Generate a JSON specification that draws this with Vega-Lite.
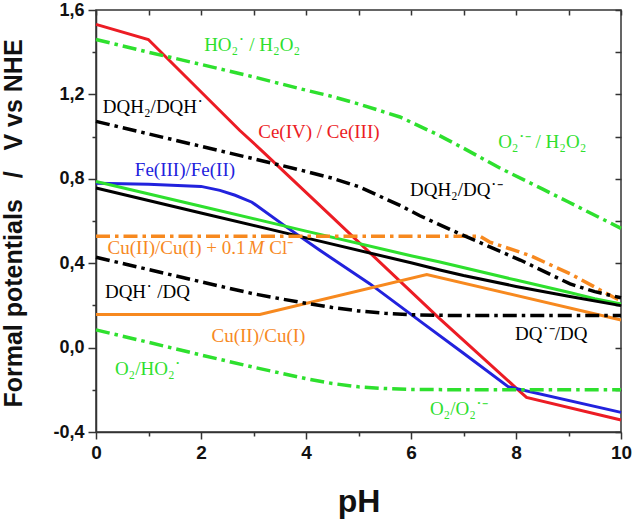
{
  "$schema": "https://vega.github.io/schema/vega-lite/v6.json",
  "width": 525,
  "height": 422,
  "autosize": {"type": "none"},
  "padding": {"left": 96, "top": 10, "right": 12, "bottom": 88},
  "background": "white",
  "config": {
    "view": {"stroke": "#333333", "strokeWidth": 1.5},
    "axis": {"grid": false, "domainColor": "#333333", "domainWidth": 1.5, "tickColor": "#333333", "tickWidth": 1.5}
  },
  "datasets": {
    "lines": [
      {"s": "Ce(IV)/Ce(III)", "x": 0, "y": 1.532},
      {"s": "Ce(IV)/Ce(III)", "x": 0.997, "y": 1.46},
      {"s": "Ce(IV)/Ce(III)", "x": 2.74, "y": 1.029},
      {"s": "Ce(IV)/Ce(III)", "x": 3.156, "y": 0.934},
      {"s": "Ce(IV)/Ce(III)", "x": 4.5, "y": 0.618},
      {"s": "Ce(IV)/Ce(III)", "x": 6.55, "y": 0.136},
      {"s": "Ce(IV)/Ce(III)", "x": 8.04, "y": -0.2},
      {"s": "Ce(IV)/Ce(III)", "x": 8.2, "y": -0.236},
      {"s": "Ce(IV)/Ce(III)", "x": 10, "y": -0.343},

      {"s": "Fe(III)/Fe(II)", "x": 0, "y": 0.779},
      {"s": "Fe(III)/Fe(II)", "x": 1, "y": 0.774},
      {"s": "Fe(III)/Fe(II)", "x": 2, "y": 0.764},
      {"s": "Fe(III)/Fe(II)", "x": 2.36, "y": 0.745},
      {"s": "Fe(III)/Fe(II)", "x": 2.65, "y": 0.722},
      {"s": "Fe(III)/Fe(II)", "x": 2.97, "y": 0.689},
      {"s": "Fe(III)/Fe(II)", "x": 3.63, "y": 0.571},
      {"s": "Fe(III)/Fe(II)", "x": 4.27, "y": 0.46},
      {"s": "Fe(III)/Fe(II)", "x": 5.22, "y": 0.302},
      {"s": "Fe(III)/Fe(II)", "x": 6.23, "y": 0.115},
      {"s": "Fe(III)/Fe(II)", "x": 7.0, "y": -0.027},
      {"s": "Fe(III)/Fe(II)", "x": 7.85, "y": -0.185},
      {"s": "Fe(III)/Fe(II)", "x": 10, "y": -0.307},

      {"s": "O2/H2O2", "x": 0, "y": 0.787},
      {"s": "O2/H2O2", "x": 2, "y": 0.67},
      {"s": "O2/H2O2", "x": 4, "y": 0.552},
      {"s": "O2/H2O2", "x": 6, "y": 0.435},
      {"s": "O2/H2O2", "x": 6.55, "y": 0.406},
      {"s": "O2/H2O2", "x": 8, "y": 0.32},
      {"s": "O2/H2O2", "x": 9, "y": 0.262},
      {"s": "O2/H2O2", "x": 9.5, "y": 0.232},
      {"s": "O2/H2O2", "x": 10, "y": 0.207},

      {"s": "DQ/DQH2", "x": 0, "y": 0.756},
      {"s": "DQ/DQH2", "x": 2, "y": 0.638},
      {"s": "DQ/DQH2", "x": 4, "y": 0.52},
      {"s": "DQ/DQH2", "x": 6, "y": 0.402},
      {"s": "DQ/DQH2", "x": 6.55, "y": 0.368},
      {"s": "DQ/DQH2", "x": 7, "y": 0.342},
      {"s": "DQ/DQH2", "x": 8, "y": 0.29},
      {"s": "DQ/DQH2", "x": 9, "y": 0.243},
      {"s": "DQ/DQH2", "x": 10, "y": 0.199},

      {"s": "Cu(II)/Cu(I)", "x": 0, "y": 0.157},
      {"s": "Cu(II)/Cu(I)", "x": 3.12, "y": 0.157},
      {"s": "Cu(II)/Cu(I)", "x": 6.3, "y": 0.346},
      {"s": "Cu(II)/Cu(I)", "x": 10, "y": 0.131},

      {"s": "Cu(II)/Cu(I) + 0.1 M Cl-", "x": 0, "y": 0.528},
      {"s": "Cu(II)/Cu(I) + 0.1 M Cl-", "x": 7.31, "y": 0.528},
      {"s": "Cu(II)/Cu(I) + 0.1 M Cl-", "x": 7.5, "y": 0.5},
      {"s": "Cu(II)/Cu(I) + 0.1 M Cl-", "x": 8.27, "y": 0.436},
      {"s": "Cu(II)/Cu(I) + 0.1 M Cl-", "x": 9.03, "y": 0.35},
      {"s": "Cu(II)/Cu(I) + 0.1 M Cl-", "x": 9.85, "y": 0.24},
      {"s": "Cu(II)/Cu(I) + 0.1 M Cl-", "x": 10, "y": 0.222},

      {"s": "DQH2/DQH", "x": 0, "y": 1.072},
      {"s": "DQH2/DQH", "x": 1, "y": 1.013},
      {"s": "DQH2/DQH", "x": 2, "y": 0.954},
      {"s": "DQH2/DQH", "x": 3, "y": 0.895},
      {"s": "DQH2/DQH", "x": 3.886, "y": 0.842},
      {"s": "DQH2/DQH", "x": 4.5, "y": 0.803},
      {"s": "DQH2/DQH", "x": 5, "y": 0.763},
      {"s": "DQH2/DQH", "x": 5.79, "y": 0.674},
      {"s": "DQH2/DQH", "x": 6.17, "y": 0.625},
      {"s": "DQH2/DQH", "x": 6.93, "y": 0.539},
      {"s": "DQH2/DQH", "x": 8.08, "y": 0.415},
      {"s": "DQH2/DQH", "x": 9.03, "y": 0.302},
      {"s": "DQH2/DQH", "x": 9.5, "y": 0.265},
      {"s": "DQH2/DQH", "x": 10, "y": 0.236},

      {"s": "DQH/DQ", "x": 0, "y": 0.428},
      {"s": "DQH/DQ", "x": 1, "y": 0.37},
      {"s": "DQH/DQ", "x": 2, "y": 0.312},
      {"s": "DQH/DQ", "x": 2.5, "y": 0.283},
      {"s": "DQH/DQ", "x": 3, "y": 0.255},
      {"s": "DQH/DQ", "x": 3.5, "y": 0.232},
      {"s": "DQH/DQ", "x": 4, "y": 0.21},
      {"s": "DQH/DQ", "x": 4.5, "y": 0.19},
      {"s": "DQH/DQ", "x": 5, "y": 0.174},
      {"s": "DQH/DQ", "x": 5.5, "y": 0.163},
      {"s": "DQH/DQ", "x": 6, "y": 0.156},
      {"s": "DQH/DQ", "x": 6.5, "y": 0.153},
      {"s": "DQH/DQ", "x": 7, "y": 0.152},
      {"s": "DQH/DQ", "x": 10, "y": 0.152},

      {"s": "HO2/H2O2", "x": 0, "y": 1.46},
      {"s": "HO2/H2O2", "x": 1, "y": 1.4},
      {"s": "HO2/H2O2", "x": 2, "y": 1.342},
      {"s": "HO2/H2O2", "x": 3, "y": 1.283},
      {"s": "HO2/H2O2", "x": 3.886, "y": 1.227},
      {"s": "HO2/H2O2", "x": 4.5, "y": 1.19},
      {"s": "HO2/H2O2", "x": 5, "y": 1.155},
      {"s": "HO2/H2O2", "x": 5.79, "y": 1.093},
      {"s": "HO2/H2O2", "x": 6.5, "y": 1.01},
      {"s": "HO2/H2O2", "x": 7, "y": 0.945},
      {"s": "HO2/H2O2", "x": 7.7, "y": 0.85},
      {"s": "HO2/H2O2", "x": 8.5, "y": 0.752},
      {"s": "HO2/H2O2", "x": 9, "y": 0.69},
      {"s": "HO2/H2O2", "x": 10, "y": 0.565},

      {"s": "O2/HO2", "x": 0, "y": 0.084},
      {"s": "O2/HO2", "x": 1, "y": 0.025},
      {"s": "O2/HO2", "x": 2, "y": -0.035},
      {"s": "O2/HO2", "x": 3, "y": -0.093},
      {"s": "O2/HO2", "x": 3.5, "y": -0.12},
      {"s": "O2/HO2", "x": 4, "y": -0.147},
      {"s": "O2/HO2", "x": 4.5, "y": -0.17},
      {"s": "O2/HO2", "x": 5, "y": -0.186},
      {"s": "O2/HO2", "x": 5.5, "y": -0.194},
      {"s": "O2/HO2", "x": 6, "y": -0.198},
      {"s": "O2/HO2", "x": 7, "y": -0.2},
      {"s": "O2/HO2", "x": 10, "y": -0.2}
    ],
    "labels": [
      {"s": "HO2/H2O2", "x": 2.06, "y": 1.433, "t": "HO₂˙ / H₂O₂"},
      {"s": "DQH2/DQH", "x": 0.13, "y": 1.14, "t": "DQH₂/DQH˙"},
      {"s": "Ce(IV)/Ce(III)", "x": 3.09, "y": 1.02, "t": "Ce(IV) / Ce(III)"},
      {"s": "Fe(III)/Fe(II)", "x": 0.74, "y": 0.84, "t": "Fe(III)/Fe(II)"},
      {"s": "HO2/H2O2", "x": 7.66, "y": 0.974, "t": "O₂˙⁻ / H₂O₂"},
      {"s": "DQH2/DQH", "x": 5.98, "y": 0.745, "t": "DQH₂/DQ˙⁻"},
      {"s": "Cu(II)/Cu(I) + 0.1 M Cl-", "x": 0.22, "y": 0.472, "t": "Cu(II)/Cu(I) + 0.1"},
      {"s": "Cu(II)/Cu(I) + 0.1 M Cl-", "x": 3.3, "y": 0.472, "t": "Cl⁻"},
      {"s": "DQH/DQ", "x": 0.17, "y": 0.262, "t": "DQH˙ /DQ"},
      {"s": "Cu(II)/Cu(I)", "x": 2.2, "y": 0.057, "t": "Cu(II)/Cu(I)"},
      {"s": "O2/HO2", "x": 0.36, "y": -0.101, "t": "O₂/HO₂˙"},
      {"s": "DQH/DQ", "x": 7.98, "y": 0.065, "t": "DQ˙⁻/DQ"},
      {"s": "O2/HO2", "x": 6.36, "y": -0.291, "t": "O₂/O₂˙⁻"}
    ],
    "italicLabels": [
      {"s": "Cu(II)/Cu(I) + 0.1 M Cl-", "x": 2.9, "y": 0.472, "t": "M"}
    ]
  },
  "resolve": {"axis": {"x": "independent", "y": "independent"}},
  "layer": [
    {
      "data": {"name": "lines"},
      "transform": [{"filter": "indexof(['Ce(IV)/Ce(III)', 'Fe(III)/Fe(II)', 'O2/H2O2', 'DQ/DQH2', 'Cu(II)/Cu(I)'], datum.s) >= 0"}],
      "mark": {"type": "line", "strokeWidth": 3, "strokeCap": "butt", "strokeJoin": "miter"},
      "encoding": {
        "x": {
          "field": "x", "type": "quantitative",
          "scale": {"domain": [0, 10], "nice": false, "zero": false},
          "axis": {
            "orient": "bottom",
            "values": [0, 1, 2, 3, 4, 5, 6, 7, 8, 9, 10],
            "tickSize": {"condition": {"test": "datum.value % 2 === 0", "value": 7}, "value": 4},
            "labelExpr": "datum.value % 2 === 0 ? datum.label : ''",
            "labelFont": "Liberation Sans", "labelFontWeight": "bold", "labelFontSize": 19, "labelColor": "#111111",
            "labelPadding": 4, "labelFlush": false, "labelOverlap": false,
            "title": "pH", "titleFont": "Liberation Sans", "titleFontWeight": "bold", "titleFontSize": 32, "titleColor": "#111111",
            "titleY": 79, "titleBaseline": "alphabetic"
          }
        },
        "y": {
          "field": "y", "type": "quantitative",
          "scale": {"domain": [-0.4, 1.6], "nice": false, "zero": false},
          "axis": {
            "orient": "left",
            "values": [-0.4, -0.2, 0, 0.2, 0.4, 0.6, 0.8, 1.0, 1.2, 1.4, 1.6],
            "tickSize": {"condition": {"test": "abs(round(datum.value * 10)) % 4 === 0", "value": 8}, "value": 4},
            "labelExpr": "abs(round(datum.value * 10)) % 4 === 0 ? (datum.value < -0.001 ? '-' : '') + replace(format(abs(datum.value), '.1f'), '.', ',') : ''",
            "labelFont": "Liberation Sans", "labelFontWeight": "bold", "labelFontSize": 18, "labelColor": "#111111",
            "labelPadding": 4, "labelFlush": false, "labelOverlap": false,
            "title": "Formal potentials \u00a0\u00a0/\u00a0\u00a0 V vs NHE", "titleFont": "Liberation Sans", "titleFontWeight": "bold", "titleFontSize": 25, "titleColor": "#111111",
            "titleX": -83, "titleY": 213, "titleAngle": -90, "titleAlign": "center", "titleBaseline": "middle"
          }
        },
        "detail": {"field": "s"},
        "color": {
          "field": "s", "type": "nominal", "legend": null,
          "scale": {
            "domain": ["Ce(IV)/Ce(III)", "Fe(III)/Fe(II)", "O2/H2O2", "DQ/DQH2", "Cu(II)/Cu(I)", "Cu(II)/Cu(I) + 0.1 M Cl-", "DQH2/DQH", "DQH/DQ", "HO2/H2O2", "O2/HO2"],
            "range": ["#ec1c24", "#2222dd", "#2ee02e", "#000000", "#f7891f", "#f7891f", "#000000", "#000000", "#2ee02e", "#2ee02e"]
          }
        }
      }
    },
    {
      "data": {"name": "lines"},
      "transform": [{"filter": "indexof(['Cu(II)/Cu(I) + 0.1 M Cl-', 'DQH2/DQH', 'DQH/DQ', 'HO2/H2O2', 'O2/HO2'], datum.s) >= 0"}],
      "mark": {"type": "line", "strokeWidth": 3.5, "strokeDash": [14, 5, 3.5, 5], "strokeCap": "butt", "strokeJoin": "miter"},
      "encoding": {
        "x": {"field": "x", "type": "quantitative", "axis": null},
        "y": {"field": "y", "type": "quantitative", "axis": null},
        "detail": {"field": "s"},
        "color": {"field": "s", "type": "nominal", "legend": null}
      }
    },
    {
      "data": {"name": "lines"},
      "mark": {"type": "point", "opacity": 0},
      "encoding": {
        "x": {
          "field": "x", "type": "quantitative",
          "axis": {"orient": "top", "values": [0, 1, 2, 3, 4, 5, 6, 7, 8, 9, 10], "labels": false, "domain": false, "tickSize": 5, "offset": -5, "title": null}
        },
        "y": {
          "field": "y", "type": "quantitative",
          "axis": {"orient": "right", "values": [-0.4, -0.2, 0, 0.2, 0.4, 0.6, 0.8, 1.0, 1.2, 1.4, 1.6], "labels": false, "domain": false, "tickSize": 6, "offset": -6, "title": null}
        }
      }
    },
    {
      "data": {"name": "labels"},
      "mark": {"type": "text", "align": "left", "baseline": "middle", "font": "Liberation Serif", "fontSize": 19},
      "encoding": {
        "x": {"field": "x", "type": "quantitative", "axis": null},
        "y": {"field": "y", "type": "quantitative", "axis": null},
        "text": {"field": "t"},
        "color": {"field": "s", "type": "nominal", "legend": null}
      }
    },
    {
      "data": {"name": "italicLabels"},
      "mark": {"type": "text", "align": "left", "baseline": "middle", "font": "Liberation Serif", "fontSize": 19, "fontStyle": "italic"},
      "encoding": {
        "x": {"field": "x", "type": "quantitative", "axis": null},
        "y": {"field": "y", "type": "quantitative", "axis": null},
        "text": {"field": "t"},
        "color": {"field": "s", "type": "nominal", "legend": null}
      }
    }
  ]
}
